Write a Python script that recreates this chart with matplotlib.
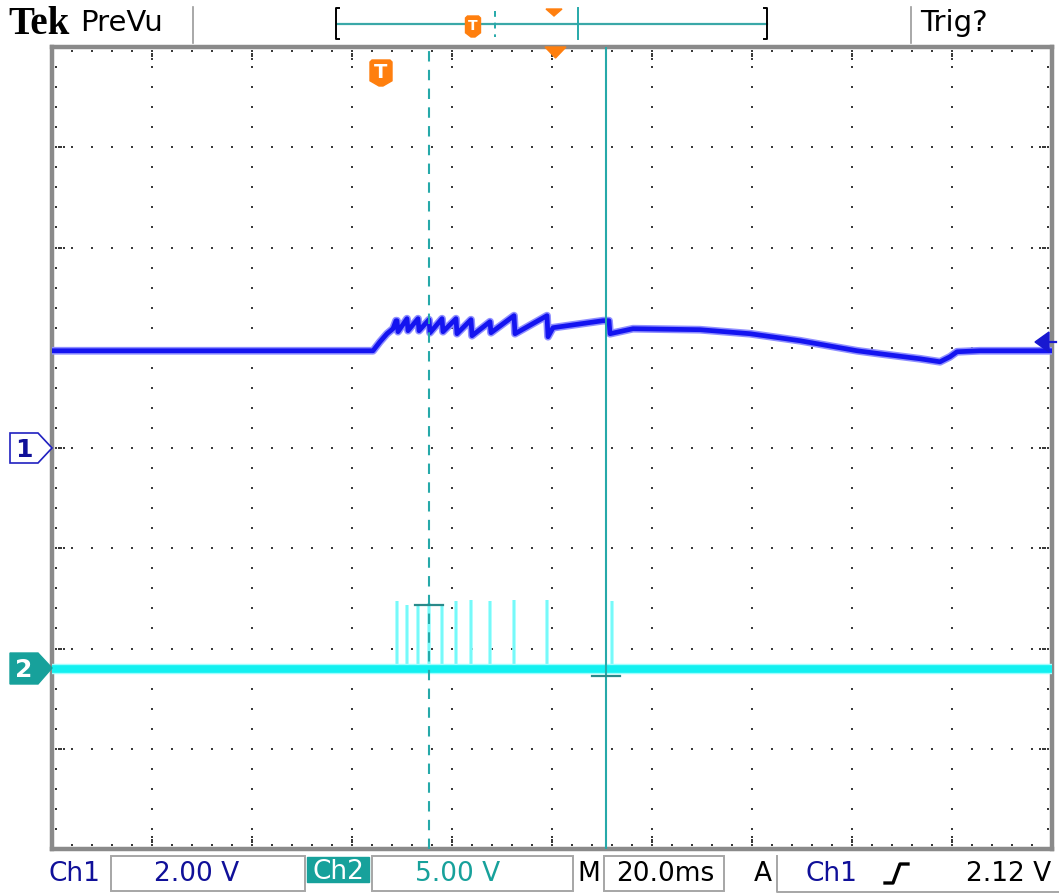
import matplotlib
matplotlib.use("Agg")
import matplotlib.pyplot as plt
from matplotlib.patches import Polygon, Rectangle

W, H = 1059, 895

# ---------------- data (scope settings and traces) ----------------
CH1_VOLTS_PER_DIV = 2.0
CH2_VOLTS_PER_DIV = 5.0
TIME_PER_DIV_MS = 20.0
CH1_POSITION_DIV = 0.0
CH2_POSITION_DIV = -2.2
TRIGGER_LEVEL_V = 2.12

# Ch1 trace: time (ms from left edge of screen) and volts
ch1_t_ms = [0.0, 64.2, 65.6, 67.0, 68.2, 68.8,
            69.0, 69.2, 71.0, 71.2, 73.2, 73.4, 75.4, 75.6, 78.0, 78.2,
            80.8, 81.0, 83.8, 84.0, 87.6, 87.8, 92.4, 92.6, 99.0, 99.2, 100.2,
            110.2, 111.4, 111.6, 116.2, 129.6, 139.6, 149.6, 161.0, 165.6,
            173.6, 177.6, 179.6, 181.0, 185.6, 200.0]
ch1_v = [1.94, 1.94, 2.12, 2.28, 2.38, 2.54,
         2.54, 2.32, 2.58, 2.34, 2.58, 2.34, 2.56, 2.30, 2.58, 2.32,
         2.58, 2.28, 2.56, 2.24, 2.52, 2.30, 2.64, 2.28, 2.64, 2.22, 2.40,
         2.54, 2.54, 2.28, 2.38, 2.36, 2.28, 2.14, 1.94, 1.88,
         1.78, 1.72, 1.82, 1.92, 1.94, 1.94]

# Ch2: flat baseline with narrow pulses
ch2_base_t_ms = [0.0, 200.0]
ch2_base_v = [0.0, 0.0]
ch2_pulse_t_ms = [69.0, 71.0, 73.2, 75.4, 78.0, 80.8, 83.8, 87.6, 92.4, 99.0, 112.0]
ch2_pulse_v = [3.35, 3.15, 3.15, 3.25, 3.10, 3.35, 3.40, 3.35, 3.40, 3.40, 3.35]

# cursors (time) and their readout points on Ch2
cursor_t_ms = [75.4, 110.8]
cursor_readout_v = [3.15, -0.35]

# status-bar texts
header_left = ["Tek", "PreVu"]
header_right = "Trig?"
status_labels = ["Ch1", "2.00 V", "Ch2", "5.00 V", "M", "20.0ms", "A", "Ch1", "2.12 V"]

# ---------------- colours ----------------
C_CH1 = "#1414f0"
C_CH1_HALO = "#8f8fff"
C_CH2 = "#12f0f0"
C_CH2_HALO = "#9ffefe"
C_CUR = "#26a9a9"
C_CUR_DARK = "#2a8a8a"
C_ORANGE = "#ff7f0e"
C_TEXT_BLUE = "#101099"
C_TEAL = "#17a19b"
C_GRAY = "#8a8a8a"

fig = plt.figure(figsize=(W / 100, H / 100), dpi=100)
fig.patch.set_facecolor("white")

# main graticule axes (in ms and divisions)
gx0, gx1, gy0, gy1 = 52, 1052, 48, 850
ax = fig.add_axes([gx0 / W, (H - gy1) / H, (gx1 - gx0) / W, (gy1 - gy0) / H])
ax.set_xlim(0, 10 * TIME_PER_DIV_MS)
ax.set_ylim(-4, 4)
ax.set_xticks([])
ax.set_yticks([])
for s in ax.spines.values():
    s.set_color(C_GRAY)
    s.set_linewidth(3.2)

# graticule dots
xs, ys = [], []
for k in range(1, 10):
    for j in range(1, 40):
        xs.append(k * TIME_PER_DIV_MS)
        ys.append(-4 + 0.2 * j)
for k in range(-3, 4):
    for j in range(1, 50):
        xs.append(j * 0.2 * TIME_PER_DIV_MS)
        ys.append(k)
ax.scatter(xs, ys, s=2.2, marker="s", color="#3a3a3a", linewidths=0, zorder=1)

# border ticks
bx, by = [], []
dx = 200 / 1000.0  # ms per pixel
dy = 8 / 802.0     # div per pixel
for j in range(1, 50):
    t = j * 0.2 * TIME_PER_DIV_MS
    n = 4 if j % 5 == 0 else 1
    for m in range(n):
        bx += [t, t]
        by += [4 - (4 + 2.6 * m) * dy, -4 + (4 + 2.6 * m) * dy]
for j in range(1, 40):
    v = -4 + 0.2 * j
    n = 4 if j % 5 == 0 else 1
    for m in range(n):
        bx += [(4 + 2.6 * m) * dx, 200 - (4 + 2.6 * m) * dx]
        by += [v, v]
ax.scatter(bx, by, s=2.2, marker="s", color="#3a3a3a", linewidths=0, zorder=1)

# Ch1 trace
ch1_y = [v / CH1_VOLTS_PER_DIV + CH1_POSITION_DIV for v in ch1_v]
ax.plot(ch1_t_ms, ch1_y, color=C_CH1_HALO, lw=5.6, solid_joinstyle="round", zorder=3)
ax.plot(ch1_t_ms, ch1_y, color=C_CH1, lw=3.4, solid_joinstyle="round", zorder=4)

# Ch2 trace
base_y = [v / CH2_VOLTS_PER_DIV + CH2_POSITION_DIV for v in ch2_base_v]
pulse_top = [v / CH2_VOLTS_PER_DIV + CH2_POSITION_DIV for v in ch2_pulse_v]
ax.vlines(ch2_pulse_t_ms, CH2_POSITION_DIV, pulse_top, color=C_CH2_HALO, lw=2.6, zorder=3)
ax.vlines(ch2_pulse_t_ms, CH2_POSITION_DIV, pulse_top, color="#6ff8f8", lw=1.2, zorder=3)
ax.plot(ch2_base_t_ms, base_y, color=C_CH2_HALO, lw=7.5, zorder=3)
ax.plot(ch2_base_t_ms, base_y, color=C_CH2, lw=5.5, zorder=4)

# cursors
ax.axvline(cursor_t_ms[0], color=C_CUR, lw=1.5, ls=(0, (5, 4)), zorder=5)
ax.axvline(cursor_t_ms[1], color=C_CUR, lw=1.5, zorder=5)
for t, v in zip(cursor_t_ms, cursor_readout_v):
    yy = v / CH2_VOLTS_PER_DIV + CH2_POSITION_DIV
    ax.plot([t - 2.8, t + 2.8], [yy, yy], color=C_CUR_DARK, lw=1.6, zorder=6)

# ---------------- decorations in pixel coordinates ----------------
d = fig.add_axes([0, 0, 1, 1], zorder=10)
d.set_xlim(0, W)
d.set_ylim(H, 0)
d.axis("off")
d.patch.set_alpha(0)

# header
d.text(8, 24, header_left[0], fontfamily="Liberation Serif", fontweight="bold",
       fontsize=28, va="center", ha="left", color="black")
d.text(80, 23, header_left[1], fontfamily="DejaVu Sans", fontsize=21,
       va="center", ha="left", color="black")
d.text(920, 23, header_right, fontfamily="DejaVu Sans", fontsize=21,
       va="center", ha="left", color="black")
d.plot([193, 193], [8, 44], color="#9a9a9a", lw=1.2)
d.plot([911, 911], [8, 44], color="#9a9a9a", lw=1.2)

# record bar
d.plot([337, 767], [25, 25], color="#3aa8a8", lw=1.6)
d.plot([339, 336, 336, 339], [9, 9, 40, 40], color="black", lw=1.4)
d.plot([764, 767, 767, 764], [9, 9, 40, 40], color="black", lw=1.4)
d.plot([495, 495], [12, 38], color=C_CUR, lw=1.4, ls=(0, (3, 3)))
d.plot([578, 578], [9, 40], color=C_CUR, lw=1.4)
d.add_patch(Polygon([[546, 10], [562, 10], [554, 17]], closed=True, color=C_ORANGE))


def t_marker(cx, top, w, h, fs):
    pts = [[cx - w / 2, top + 2], [cx - w / 2 + 2, top], [cx + w / 2 - 2, top], [cx + w / 2, top + 2],
           [cx + w / 2, top + h * 0.8], [cx + 2, top + h], [cx - 2, top + h], [cx - w / 2, top + h * 0.8]]
    d.add_patch(Polygon(pts, closed=True, color=C_ORANGE, zorder=11))
    d.text(cx, top + h * 0.45, "T", color="white", fontsize=fs, fontweight="bold",
           ha="center", va="center", fontfamily="DejaVu Sans", zorder=12)


t_marker(473, 17, 15, 21, 10)
t_marker(381, 61, 22, 26, 14)

# trigger position marker on graticule top
d.add_patch(Polygon([[545, 48], [566, 48], [555.5, 59]], closed=True, color=C_ORANGE, zorder=11))

# channel ground markers
d.add_patch(Polygon([[10, 434], [38, 434], [52, 449], [38, 464], [10, 464]], closed=True,
                    facecolor="white", edgecolor="#2020c0", lw=1.2, zorder=11))
d.text(24, 450, "1", color=C_TEXT_BLUE, fontsize=18, fontweight="bold", ha="center", va="center",
       fontfamily="DejaVu Sans", zorder=12)
d.add_patch(Polygon([[10, 654], [38, 654], [52, 669], [38, 685], [10, 685]], closed=True,
                    facecolor=C_TEAL, edgecolor=C_TEAL, lw=1.0, zorder=11))
d.text(24, 670, "2", color="white", fontsize=18, fontweight="bold", ha="center", va="center",
       fontfamily="DejaVu Sans", zorder=12)

# trigger level arrow on right
d.add_patch(Polygon([[1035, 343], [1049, 333], [1049, 353]], closed=True, color="#1818d0", zorder=11))
d.plot([1040, 1056], [343, 343], color="#1818d0", lw=1.6, zorder=11)

# bottom status bar
box_c = "#a6a6a6"
for x0, x1 in [(111, 305), (372, 573), (604, 724)]:
    d.add_patch(Rectangle((x0, 857), x1 - x0, 35, fill=False, edgecolor=box_c, lw=1.4))
d.plot([777, 777, 1059], [857, 893, 893], color=box_c, lw=1.4)
d.add_patch(Rectangle((307, 858), 62, 25, color=C_TEAL))

ty = 874
fs = 19
d.text(48, ty, status_labels[0], color=C_TEXT_BLUE, fontsize=fs, ha="left", va="center")
d.text(197, ty, status_labels[1], color=C_TEXT_BLUE, fontsize=fs, ha="center", va="center")
d.text(338, ty - 2, status_labels[2], color="white", fontsize=fs, ha="center", va="center")
d.text(458, ty, status_labels[3], color=C_TEAL, fontsize=fs, ha="center", va="center")
d.text(589, ty, status_labels[4], color="black", fontsize=fs, ha="center", va="center")
d.text(665, ty, status_labels[5], color="black", fontsize=fs, ha="center", va="center")
d.text(763, ty, status_labels[6], color="black", fontsize=fs, ha="center", va="center")
d.text(831, ty, status_labels[7], color=C_TEXT_BLUE, fontsize=fs, ha="center", va="center")
d.plot([885, 893, 900, 908], [884, 884, 865, 865], color="black", lw=2.4)
d.text(1051, ty, status_labels[8], color="black", fontsize=fs, ha="right", va="center")

fig.savefig("out.png", dpi=100, facecolor="white")
